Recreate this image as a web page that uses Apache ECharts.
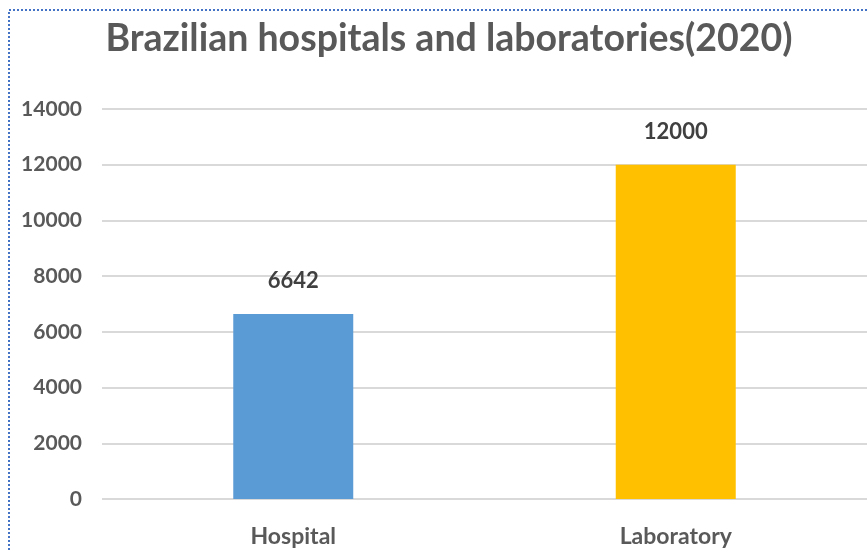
<!DOCTYPE html>
<html><head><meta charset="utf-8">
<script src="https://cdn.jsdelivr.net/npm/echarts@6/dist/echarts.min.js"></script>
<style>html,body{margin:0;padding:0;background:#fff}#c{width:867px;height:550px}</style>
</head><body><div id="c"></div>
<script>
const titleText = 'Brazilian hospitals and laboratories(2020)';
const categories = ['Hospital', 'Laboratory'];
const values = [6642, 12000];
const barColors = ['#5B9BD5', '#FFC000'];
const yTicks = [0, 2000, 4000, 6000, 8000, 10000, 12000, 14000];

const font = 'Lato, "Open Sans", sans-serif';
const chart = echarts.init(document.getElementById('c'));
chart.setOption({
  animation: false,
  backgroundColor: '#fff',
  title: {
    text: titleText, left: 444, top: 15, textAlign: 'center',
    textStyle: { fontFamily: font, fontWeight: 'bold', fontSize: 37.5, color: '#595959' }
  },
  graphic: [{
    type: 'rect', silent: true, z: 100,
    shape: { x: 9, y: 10, width: 900, height: 600 },
    style: { fill: 'none', stroke: '#4472C4', lineWidth: 2, lineDash: [2, 2] }
  }],
  grid: { left: 102, right: 0, top: 109, bottom: 51 },
  xAxis: {
    type: 'category', data: categories,
    axisLine: { show: false }, axisTick: { show: false },
    axisLabel: { margin: 26, fontFamily: font, fontWeight: 'bold', fontSize: 23, color: '#595959' }
  },
  yAxis: {
    type: 'value', min: yTicks[0], max: yTicks[yTicks.length - 1], interval: 2000,
    axisLine: { show: false }, axisTick: { show: false },
    axisLabel: { margin: 20, fontFamily: font, fontWeight: 'bold', fontSize: 21, color: '#595959',
      formatter: v => String(v) },
    splitLine: { lineStyle: { color: '#d9d9d9', width: 2 } }
  },
  series: [{
    type: 'bar', barWidth: 120,
    data: values.map((v, i) => ({ value: v, itemStyle: { color: barColors[i] } })),
    label: { show: true, position: 'top', distance: 22, fontFamily: font, fontWeight: 'bold', fontSize: 22, color: '#404040' }
  }]
});
</script></body></html>
